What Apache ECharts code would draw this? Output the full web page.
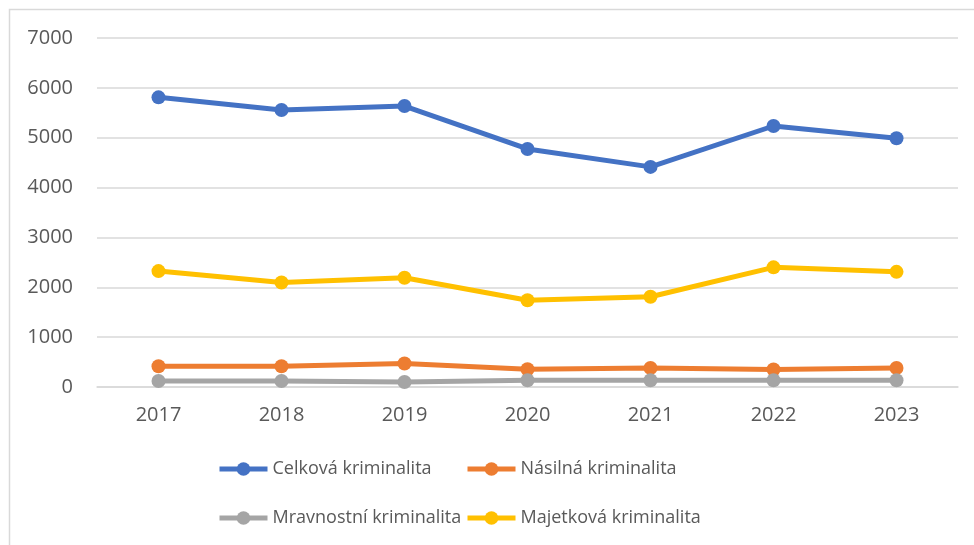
<!DOCTYPE html>
<html>
<head>
    <meta charset="utf-8" />
    <title>Kriminalita 2017-2023</title>
    <style type="text/css">
        body, html {width: 100%;height: 100%;margin:0;background:#fff;}
        #chart{width:974px;height:545px;}
    </style>
    <script src="https://cdn.jsdelivr.net/npm/echarts@6/dist/echarts.min.js"></script>
</head>
<body>
<div id="chart"></div>
<script type="text/javascript">
    var years = ['2017', '2018', '2019', '2020', '2021', '2022', '2023'];
    var celkova = [5810, 5555, 5635, 4775, 4415, 5235, 4990];
    var nasilna = [415, 415, 470, 355, 380, 350, 380];
    var mravnostni = [120, 120, 100, 135, 135, 135, 135];
    var majetkova = [2325, 2095, 2190, 1740, 1810, 2400, 2310];

    var names = ['Celková kriminalita', 'Násilná kriminalita', 'Mravnostní kriminalita', 'Majetková kriminalita'];
    var colors = ['#4472C4', '#ED7D31', '#A5A5A5', '#FFC000'];
    var values = [celkova, nasilna, mravnostni, majetkova];

    var textColor = '#595959';
    var font = 'Open Sans';

    function makeSeries(i) {
        return {
            name: names[i],
            type: 'line',
            data: values[i],
            symbol: 'circle',
            symbolSize: 14,
            itemStyle: {color: colors[i]},
            lineStyle: {color: colors[i], width: 5},
            emphasis: {disabled: true}
        };
    }

    // one legend per item, Excel puts them in a 2x2 block
    var legendPos = [[217, 460], [465, 460], [217, 509], [465, 509]];
    function makeLegend(i) {
        return {
            data: [names[i]],
            left: legendPos[i][0],
            top: legendPos[i][1],
            padding: 0,
            itemWidth: 48,
            itemHeight: 17,
            lineStyle: {width: 5},
            textStyle: {color: textColor, fontSize: 18, fontFamily: font},
            selectedMode: false
        };
    }

    var chart = echarts.init(document.getElementById('chart'));
    var option = {
        backgroundColor: '#fff',
        animation: false,
        color: colors,
        grid: {left: 97, right: 16, top: 38, bottom: 158},
        graphic: [{
            type: 'rect',
            shape: {x: 9.5, y: 9.5, width: 1000, height: 600},
            style: {fill: 'none', stroke: '#D9D9D9', lineWidth: 1.5},
            silent: true
        }],
        legend: [makeLegend(0), makeLegend(1), makeLegend(2), makeLegend(3)],
        xAxis: {
            type: 'category',
            data: years,
            boundaryGap: true,
            axisLine: {show: true, lineStyle: {color: '#D9D9D9', width: 1.5}},
            axisTick: {show: false},
            axisLabel: {color: textColor, fontSize: 20, fontFamily: font, margin: 18}
        },
        yAxis: {
            type: 'value',
            min: 0,
            max: 7000,
            interval: 1000,
            axisLine: {show: false},
            axisTick: {show: false},
            axisLabel: {
                color: textColor, fontSize: 20, fontFamily: font, margin: 24,
                formatter: function (v) { return String(v); }
            },
            splitLine: {lineStyle: {color: '#D9D9D9', width: 1.5}}
        },
        series: [makeSeries(0), makeSeries(1), makeSeries(2), makeSeries(3)]
    };
    chart.setOption(option);
</script>
</body>
</html>
